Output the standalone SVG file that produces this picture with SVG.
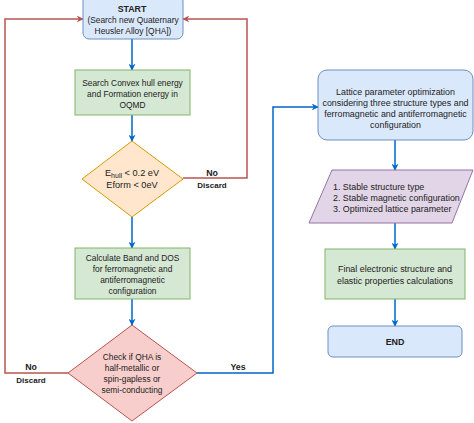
<svg xmlns="http://www.w3.org/2000/svg" width="474" height="423" viewBox="0 0 474 423">
<defs>
<marker id="ab" viewBox="0 0 10 10" refX="9" refY="5" markerWidth="7" markerHeight="7" markerUnits="userSpaceOnUse" orient="auto"><path d="M0,0 L10,5 L0,10 L3,5 Z" fill="#0066CC"/></marker>
<marker id="ar" viewBox="0 0 10 10" refX="9" refY="5" markerWidth="7" markerHeight="7" markerUnits="userSpaceOnUse" orient="auto"><path d="M0,0 L10,5 L0,10 L3,5 Z" fill="#b85450"/></marker>
<style>
text{font-family:"Liberation Sans",Arial,sans-serif;fill:#222;text-anchor:middle}
.l{font-size:8.4px}
.r{font-size:8.9px}
.b{font-weight:bold}
.blue{fill:#dae8fc;stroke:#6c8ebf;stroke-width:1}
.green{fill:#d5e8d4;stroke:#82b366;stroke-width:1}
.orange{fill:#ffe6cc;stroke:#d79b00;stroke-width:1}
.red{fill:#f8cecc;stroke:#b85450;stroke-width:1}
.purple{fill:#e1d5e7;stroke:#9673a6;stroke-width:1}
.cb{fill:none;stroke:#0066CC;stroke-width:1.5;marker-end:url(#ab)}
.cr{fill:none;stroke:#b85450;stroke-width:1.5;marker-end:url(#ar)}
</style>
</defs>
<rect width="474" height="423" fill="#fff"/>
<g id="connectors">
<path class="cb" d="M132,39 L132,70"/>
<path class="cb" d="M132,115 L132,141"/>
<path class="cb" d="M132,217 L132,248"/>
<path class="cb" d="M132,299 L132,325"/>
<path class="cr" d="M183,178 L247,178 L247,19 L183,19"/>
<path class="cr" d="M68,373 L5,373 L5,19 L83,19"/>
<path class="cb" d="M197,373 L273,373 L273,107 L318,107"/>
<path class="cb" d="M395,140 L395,170"/>
<path class="cb" d="M395,223 L395,249"/>
<path class="cb" d="M395,299 L395,326"/>
<text class="b" x="212" y="176" style="font-size:8.8px">No</text>
<text class="b" x="212" y="188" style="font-size:8px">Discard</text>
<text class="b" x="31" y="370" style="font-size:8.8px">No</text>
<text class="b" x="31" y="383" style="font-size:8px">Discard</text>
<text class="b" x="238" y="370" style="font-size:8.8px">Yes</text>
</g>
<g id="start">
<rect class="blue" x="83" y="-5" width="100" height="44" rx="6"/>
<text class="l b" x="132" y="12" style="font-size:8.8px">START</text>
<text class="l" x="133" y="23">(Search new Quaternary</text>
<text class="l" x="133" y="34">Heusler Alloy [QHA])</text>
</g>
<g id="search">
<rect class="green" x="75" y="70" width="115" height="45"/>
<text class="l" x="132.5" y="86">Search Convex hull energy</text>
<text class="l" x="132.5" y="97">and Formation energy in</text>
<text class="l" x="132.5" y="108">OQMD</text>
</g>
<g id="check1">
<polygon class="orange" points="132,141 183,179 132,217 82,179"/>
<text class="l" x="132" y="176" style="font-size:9.2px">E<tspan dy="2" style="font-size:7px">hull</tspan><tspan dy="-2"> &lt; 0.2 eV</tspan></text>
<text class="l" x="132" y="188" style="font-size:9.2px">Eform &lt; 0eV</text>
</g>
<g id="band">
<rect class="green" x="75" y="248" width="115" height="51"/>
<text class="l" x="132.5" y="261">Calculate Band and DOS</text>
<text class="l" x="132.5" y="272">for ferromagnetic and</text>
<text class="l" x="132.5" y="283">antiferromagnetic</text>
<text class="l" x="132.5" y="294">configuration</text>
</g>
<g id="check2">
<polygon class="red" points="132,325 197,373 132,421 68,373"/>
<text class="l" x="132" y="360">Check if QHA is</text>
<text class="l" x="132" y="371">half-metallic or</text>
<text class="l" x="132" y="382">spin-gapless or</text>
<text class="l" x="132" y="393">semi-conducting</text>
</g>
<g id="lattice">
<rect class="blue" x="318" y="70" width="155" height="70" rx="9"/>
<text class="r" x="395.5" y="95">Lattice parameter optimization</text>
<text class="r" x="395.5" y="106">considering three structure types and</text>
<text class="r" x="395.5" y="117">ferromagnetic and antiferromagnetic</text>
<text class="r" x="395.5" y="128">configuration</text>
</g>
<g id="output">
<polygon class="purple" points="332,170 473,170 452,223 309,223"/>
<text class="r" x="333" y="190" style="text-anchor:start">1. Stable structure type</text>
<text class="r" x="333" y="201" style="text-anchor:start">2. Stable magnetic configuration</text>
<text class="r" x="333" y="212" style="text-anchor:start">3. Optimized lattice parameter</text>
</g>
<g id="final">
<rect class="green" x="325" y="249" width="140" height="50"/>
<text class="r" x="395" y="272">Final electronic structure and</text>
<text class="r" x="395" y="284">elastic properties calculations</text>
</g>
<g id="end">
<rect class="blue" x="328" y="326" width="134" height="31" rx="5"/>
<text class="r b" x="395" y="344.5">END</text>
</g>
</svg>
